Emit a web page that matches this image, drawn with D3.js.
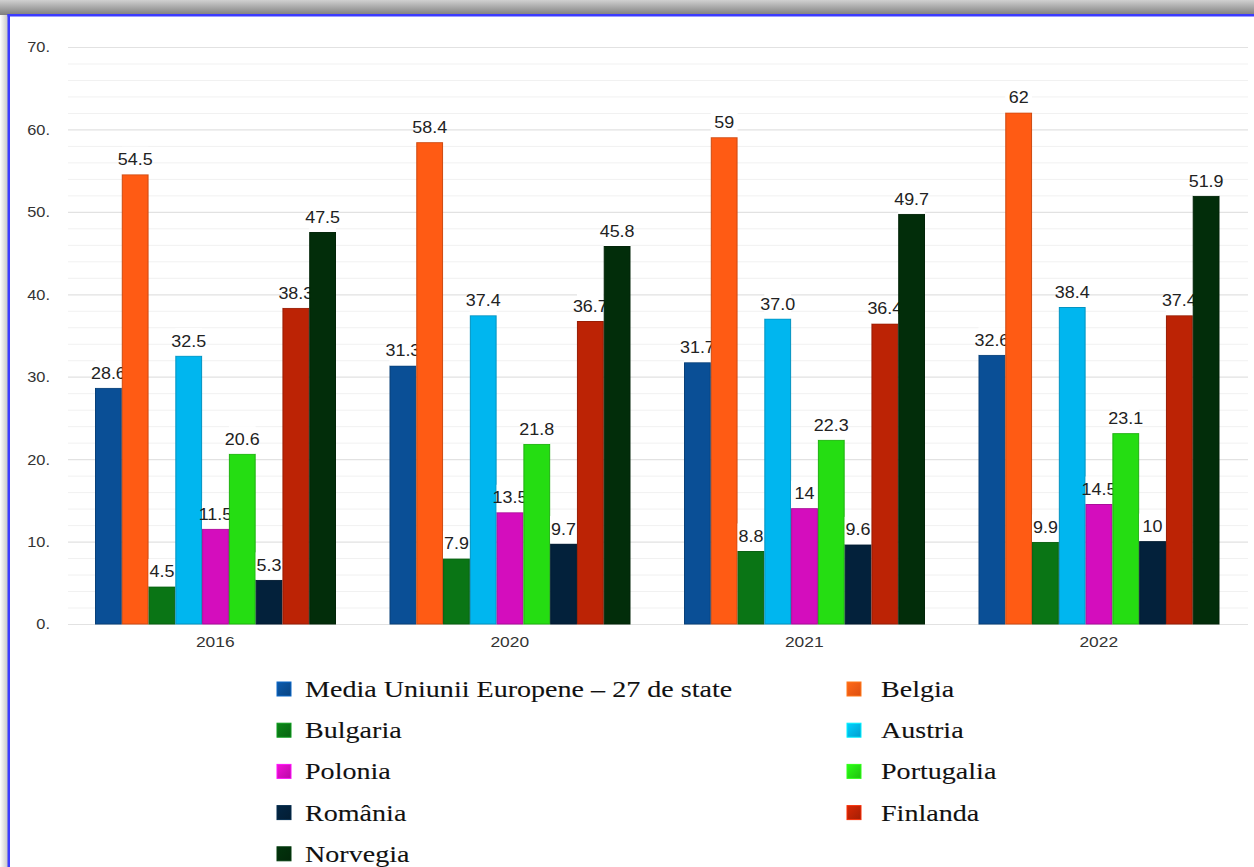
<!DOCTYPE html>
<html>
<head>
<meta charset="utf-8">
<script src="https://cdn.jsdelivr.net/npm/d3@7"></script>
<style>
  html, body { margin: 0; padding: 0; background: #ffffff; }
  svg { display: block; }
</style>
</head>
<body>
<svg id="chart" width="1254" height="867"></svg>
<script>
// Years on the x axis
const years = ["2016", "2020", "2021", "2022"];

// Series values, written as they are printed above each bar
const media      = ["28.6", "31.3", "31.7", "32.6"];
const belgia     = ["54.5", "58.4", "59",   "62"];
const bulgaria   = ["4.5",  "7.9",  "8.8",  "9.9"];
const austria    = ["32.5", "37.4", "37.0", "38.4"];
const polonia    = ["11.5", "13.5", "14",   "14.5"];
const portugalia = ["20.6", "21.8", "22.3", "23.1"];
const romania    = ["5.3",  "9.7",  "9.6",  "10"];
const finlanda   = ["38.3", "36.7", "36.4", "37.4"];
const norvegia   = ["47.5", "45.8", "49.7", "51.9"];

// Y axis tick labels
const yTicks = [0, 10, 20, 30, 40, 50, 60, 70];
const yTickLabels = ["0.", "10.", "20.", "30.", "40.", "50.", "60.", "70."];

const series = [
  { name: "Media Uniunii Europene \u2013 27 de state", values: media,      color: "#0a4f96" },
  { name: "Belgia",     values: belgia,     color: "#ff5b14" },
  { name: "Bulgaria",   values: bulgaria,   color: "#0a7515" },
  { name: "Austria",    values: austria,    color: "#00b6ef" },
  { name: "Polonia",    values: polonia,    color: "#d40dbd" },
  { name: "Portugalia", values: portugalia, color: "#25dd12" },
  { name: "Rom\u00e2nia", values: romania,  color: "#03213b" },
  { name: "Finlanda",   values: finlanda,   color: "#bc2305" },
  { name: "Norvegia",   values: norvegia,   color: "#022d0a" }
];

const svg = d3.select("#chart");
const W = 1254, H = 867;
const SANS = "'Liberation Sans', Arial, sans-serif";
const SERIF = "'Liberation Serif', 'Times New Roman', serif";

// ---- frame: shaded top strip and blue edges ----
const defs = svg.append("defs");
const topGrad = defs.append("linearGradient").attr("id", "topShade")
  .attr("x1", 0).attr("y1", 0).attr("x2", 0).attr("y2", 1);
topGrad.append("stop").attr("offset", "0%").attr("stop-color", "#d0d0d0");
topGrad.append("stop").attr("offset", "100%").attr("stop-color", "#7e7e7e");
const leftGrad = defs.append("linearGradient").attr("id", "leftShade")
  .attr("x1", 0).attr("y1", 0).attr("x2", 1).attr("y2", 0);
leftGrad.append("stop").attr("offset", "0%").attr("stop-color", "#ffffff");
leftGrad.append("stop").attr("offset", "100%").attr("stop-color", "#c4c4c4");

svg.append("rect").attr("x", 0).attr("y", 0).attr("width", W).attr("height", 15)
  .attr("fill", "url(#topShade)");
svg.append("rect").attr("x", 0).attr("y", 15).attr("width", 8).attr("height", H - 15)
  .attr("fill", "url(#leftShade)");
svg.append("rect").attr("x", 7.5).attr("y", 14).attr("width", W).attr("height", 2.5)
  .attr("fill", "#3b3bff");
svg.append("rect").attr("x", 7.5).attr("y", 14).attr("width", 2.5).attr("height", H - 14)
  .attr("fill", "#3b3bff");

// ---- scales ----
const plotLeft = 68, plotRight = 1248;
const y = d3.scaleLinear().domain([0, 70]).range([624, 47]);
const x0 = d3.scaleBand().domain(years).range([plotLeft, 1246]).paddingInner(0).paddingOuter(0);
const x1 = d3.scaleBand().domain(series.map(s => s.name))
  .range([27, x0.bandwidth() - 26.5]).padding(0);

// ---- gridlines ----
const grid = svg.append("g");
const minor = d3.range(0, 71, 2).filter(v => v % 10 !== 0);
grid.selectAll("line.minor").data(minor).join("line")
  .attr("class", "minor")
  .attr("x1", plotLeft).attr("x2", plotRight)
  .attr("y1", d => y(d) + 0.5).attr("y2", d => y(d) + 0.5)
  .attr("stroke", "#f1f1f1").attr("stroke-width", 1);
grid.selectAll("line.major").data(yTicks).join("line")
  .attr("class", "major")
  .attr("x1", plotLeft).attr("x2", plotRight)
  .attr("y1", d => y(d) + 0.5).attr("y2", d => y(d) + 0.5)
  .attr("stroke", "#e2e2e2").attr("stroke-width", 1.2);

// ---- y axis labels ----
const yAxis = d3.axisLeft(y).tickValues(yTicks)
  .tickFormat((d, i) => yTickLabels[i]).tickSize(0).tickPadding(0);
const yG = svg.append("g").attr("transform", "translate(50,0)").call(yAxis);
yG.select(".domain").remove();
yG.selectAll("text")
  .attr("font-family", SANS)
  .attr("font-size", 14).attr("fill", "#333").attr("dy", "0.35em")
  .attr("transform", "scale(1.17,1)");

// ---- x axis labels ----
const xAxis = d3.axisBottom(x0).tickSize(0).tickPadding(0);
const xG = svg.append("g").attr("transform", "translate(0,636)").call(xAxis);
xG.select(".domain").remove();
xG.selectAll("text")
  .attr("font-family", SANS)
  .attr("font-size", 15).attr("fill", "#333").attr("dy", "0.71em")
  .attr("transform", "scale(1.16,1)");

// ---- bars with their value labels, one series after another ----
const barsG = svg.append("g");
series.forEach(s => {
  const g = barsG.append("g");
  const rows = years.map((yr, i) => ({ year: yr, label: s.values[i], value: +s.values[i] }));
  const bx = d => x0(d.year) + x1(s.name);
  const bw = x1.bandwidth();

  g.selectAll("rect.bar").data(rows).join("rect")
    .attr("class", "bar")
    .attr("x", d => bx(d) + 0.5)
    .attr("y", d => y(d.value))
    .attr("width", bw - 1)
    .attr("height", d => y(0) - y(d.value))
    .attr("fill", s.color)
    .attr("stroke", d3.color(s.color).darker(0.6))
    .attr("stroke-width", 1);

  // white label backing, as wide as the bar
  g.selectAll("rect.lblbg").data(rows).join("rect")
    .attr("class", "lblbg")
    .attr("x", bx)
    .attr("y", d => y(d.value) - 28)
    .attr("width", bw)
    .attr("height", 27.5)
    .attr("fill", "#ffffff");

  g.selectAll("text.val").data(rows).join("text")
    .attr("class", "val")
    .attr("transform", d => `translate(${bx(d) + bw / 2},${y(d.value) - 9.5}) scale(1.12,1)`)
    .attr("text-anchor", "middle")
    .attr("font-family", SANS)
    .attr("font-size", 16)
    .attr("fill", "#222")
    .text(d => d.label);
});

// ---- legend: two columns, filled row by row ----
const legendG = svg.append("g");
const colX = [277, 847];
const textX = [305, 881];
const rowY0 = 689, rowStep = 41.2;
series.forEach((s, i) => {
  const col = i % 2, row = Math.floor(i / 2);
  const cy = rowY0 + row * rowStep;
  const gid = "lg" + i;
  const lg = defs.append("linearGradient").attr("id", gid)
    .attr("x1", 0).attr("y1", 0).attr("x2", 1).attr("y2", 1);
  lg.append("stop").attr("offset", "0%").attr("stop-color", d3.color(s.color).brighter(0.4));
  lg.append("stop").attr("offset", "100%").attr("stop-color", d3.color(s.color).darker(0.4));
  legendG.append("rect")
    .attr("x", colX[col]).attr("y", cy - 7)
    .attr("width", 14).attr("height", 14)
    .attr("fill", `url(#${gid})`)
    .attr("stroke", d3.color(s.color).brighter(0.8))
    .attr("stroke-width", 1);
  legendG.append("text")
    .attr("transform", `translate(${textX[col]},${cy}) scale(1.17,1)`)
    .attr("dy", "0.33em")
    .attr("font-family", SERIF)
    .attr("font-size", 24)
    .attr("fill", "#111")
    .attr("stroke", "#111").attr("stroke-width", 0.1)
    .text(s.name);
});
</script>
</body>
</html>
